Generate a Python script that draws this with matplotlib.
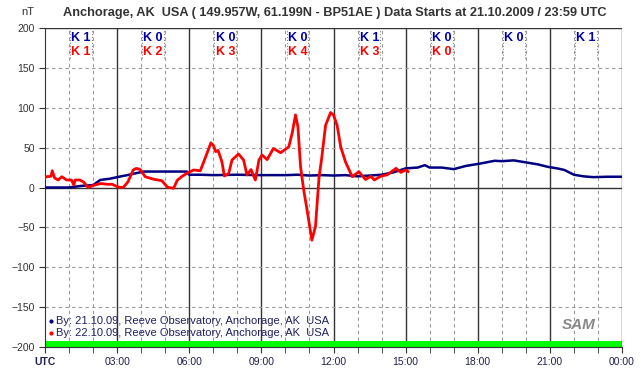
import numpy as np
import matplotlib.pyplot as plt

# Magnetometer data (hours UTC, nT)
hrs_blue = [0.0, 1.0, 1.5, 2.0, 2.3, 2.7, 3.0, 3.5, 4.1, 4.5, 5.0, 5.5, 5.9, 6.0, 6.5, 7.0, 8.0,
            9.0, 10.0, 10.5, 11.0, 11.5, 12.0, 12.5, 13.0, 13.5, 14.0, 14.5, 15.0, 15.5, 15.8,
            16.0, 16.5, 17.0, 17.5, 18.1, 18.7, 19.0, 19.5, 20.0, 20.5, 20.9, 21.3, 21.6,
            22.0, 22.4, 22.8, 23.4, 24.0]
nT_blue = [0, 0, 2, 3, 9.5, 11, 13, 16, 20, 20, 20, 20, 20, 16, 16, 15.5, 16,
           15.5, 15.5, 16, 15, 15.5, 15, 15.5, 14, 15, 16, 19, 24, 25, 28,
           25, 25, 23, 27, 30, 33.5, 33, 34, 31.5, 29, 26, 24, 22,
           16, 14, 13, 13.5, 13.5]

hrs_red = [0.0, 0.04, 0.25, 0.3, 0.4, 0.55, 0.7, 0.9, 1.1, 1.2, 1.25, 1.45, 1.6, 1.8, 2.0,
           2.3, 2.6, 2.8, 3.05, 3.25, 3.45, 3.67, 3.8, 3.96, 4.17, 4.5, 4.86, 5.1, 5.35,
           5.5, 5.7, 5.9, 6.18, 6.46, 6.74, 6.9, 7.0, 7.1, 7.2, 7.36, 7.46, 7.64, 7.78,
           8.05, 8.26, 8.4, 8.57, 8.75, 8.9, 9.03, 9.24, 9.5, 9.8, 10.14, 10.28, 10.42,
           10.52, 10.63, 10.76, 10.9, 11.1, 11.25, 11.4, 11.5, 11.67, 11.88, 12.0, 12.15,
           12.3, 12.5, 12.78, 13.0, 13.05, 13.33, 13.55, 13.7, 13.96, 14.24, 14.6, 14.8,
           15.0, 15.1]
nT_red = [12, 13.5, 14, 21, 12, 9.4, 13.5, 9.4, 9.4, 3, 9.4, 9.4, 7, 0, 2.5,
          5, 4, 4, 0.5, 0, 7, 22, 24, 22.5, 13.5, 10.5, 8.5, 0.3, -1,
          9, 14, 17.7, 22, 21, 43, 56, 53, 45, 46.5, 32, 14.5, 17.5, 34.5,
          42, 34.5, 15.7, 22.5, 9.4, 34.5, 40.7, 35, 49, 43.6, 51, 68, 91,
          76, 26, -3, -28, -66, -49, 13.5, 34.5, 78, 94, 91, 78,
          51, 32, 13.5, 18.6, 20, 10, 14, 9.5, 14, 16, 24, 19,
          22, 20]

k_blue = ['K 1', 'K 0', 'K 0', 'K 0', 'K 1', 'K 0', 'K 0', 'K 1']
k_red = ['K 1', 'K 2', 'K 3', 'K 4', 'K 3', 'K 0']

xtick_labels = ['UTC', '03:00', '06:00', '09:00', '12:00', '15:00', '18:00', '21:00', '00:00']

plt.rcParams['font.family'] = ['Liberation Sans', 'DejaVu Sans']

fig = plt.figure(figsize=(6.42, 3.76), dpi=100)
ax = fig.add_axes([45/642, 29/376, 577/642, 319/376])
ax.set_xlim(0, 24)
ax.set_ylim(-200, 200)

# grid
for h in range(1, 24):
    if h % 3 == 0:
        ax.axvline(h, color='#333333', lw=1.0, zorder=1)
    else:
        ax.axvline(h, color='#999999', lw=0.8, ls=(0, (3, 3)), zorder=1)
for v in range(-150, 200, 50):
    if v == 0:
        ax.axhline(v, color='#333333', lw=1.0, zorder=1)
    else:
        ax.axhline(v, color='#999999', lw=0.8, ls=(0, (3, 3)), zorder=1)

# green band at bottom
ax.axhspan(-200, -192, color='#00ff00', lw=0, zorder=2)

ax.plot(hrs_blue, nT_blue, color='#000080', lw=1.8, zorder=3)
ax.plot(hrs_red, nT_red, color='#ff0000', lw=2.0, zorder=4)

# K indices with little dotted brackets
for i, k in enumerate(k_blue):
    ax.text(3*i + 1.5, 188, k, color='#0000aa', fontsize=9, fontweight='bold',
            ha='center', va='center', zorder=5)
    for dx in (-0.45, 0.45):
        ax.plot([3*i + 1.5 + dx]*2, [162, 198], color='#777777', lw=0.7,
                ls=(0, (1, 2)), zorder=2)
for i, k in enumerate(k_red):
    ax.text(3*i + 1.5, 170, k, color='#ff0000', fontsize=9, fontweight='bold',
            ha='center', va='center', zorder=5)

# legend text
ax.plot(0.25, -168, marker='o', ms=2, color='#000080', clip_on=False)
ax.plot(0.25, -182, marker='o', ms=2, color='#ff0000', clip_on=False)
ax.text(0.45, -168, 'By: 21.10.09, Reeve Observatory, Anchorage, AK  USA',
        fontsize=8, color='#202060', va='center')
ax.text(0.45, -182, 'By: 22.10.09, Reeve Observatory, Anchorage, AK  USA',
        fontsize=8, color='#202060', va='center')
ax.text(22.2, -172, 'SAM', fontsize=11, fontstyle='italic', fontweight='bold',
        color='#888888', ha='center', va='center')

ax.set_xticks(np.arange(0, 25, 3))
ax.set_xticklabels(xtick_labels, fontsize=7.5, color='#202050')
ax.get_xticklabels()[0].set_fontweight('bold')
ax.set_xticks(np.arange(0, 25, 1), minor=True)
ax.tick_params(axis='x', which='both', length=4, color='#333333', pad=3)
ax.set_yticks(np.arange(-200, 201, 50))
ax.tick_params(axis='y', length=4, color='#333333', labelsize=7.5, labelcolor='#333333')

for s in ['top', 'right']:
    ax.spines[s].set_visible(False)
ax.spines['left'].set_color('#333333')
ax.spines['bottom'].set_color('#333333')
ax.axhline(200, color='#333333', lw=1.0)
ax.axvline(24, color='#333333', lw=1.0)

fig.text(28/642, 1 - 12/376, 'nT', fontsize=8, color='#333333', ha='center', va='center')
fig.text(335/642, 1 - 13/376,
         'Anchorage, AK  USA ( 149.957W, 61.199N - BP51AE ) Data Starts at 21.10.2009 / 23:59 UTC',
         fontsize=9.2, fontweight='bold', color='#333333', ha='center', va='center')

fig.savefig('out.png', dpi=100)
